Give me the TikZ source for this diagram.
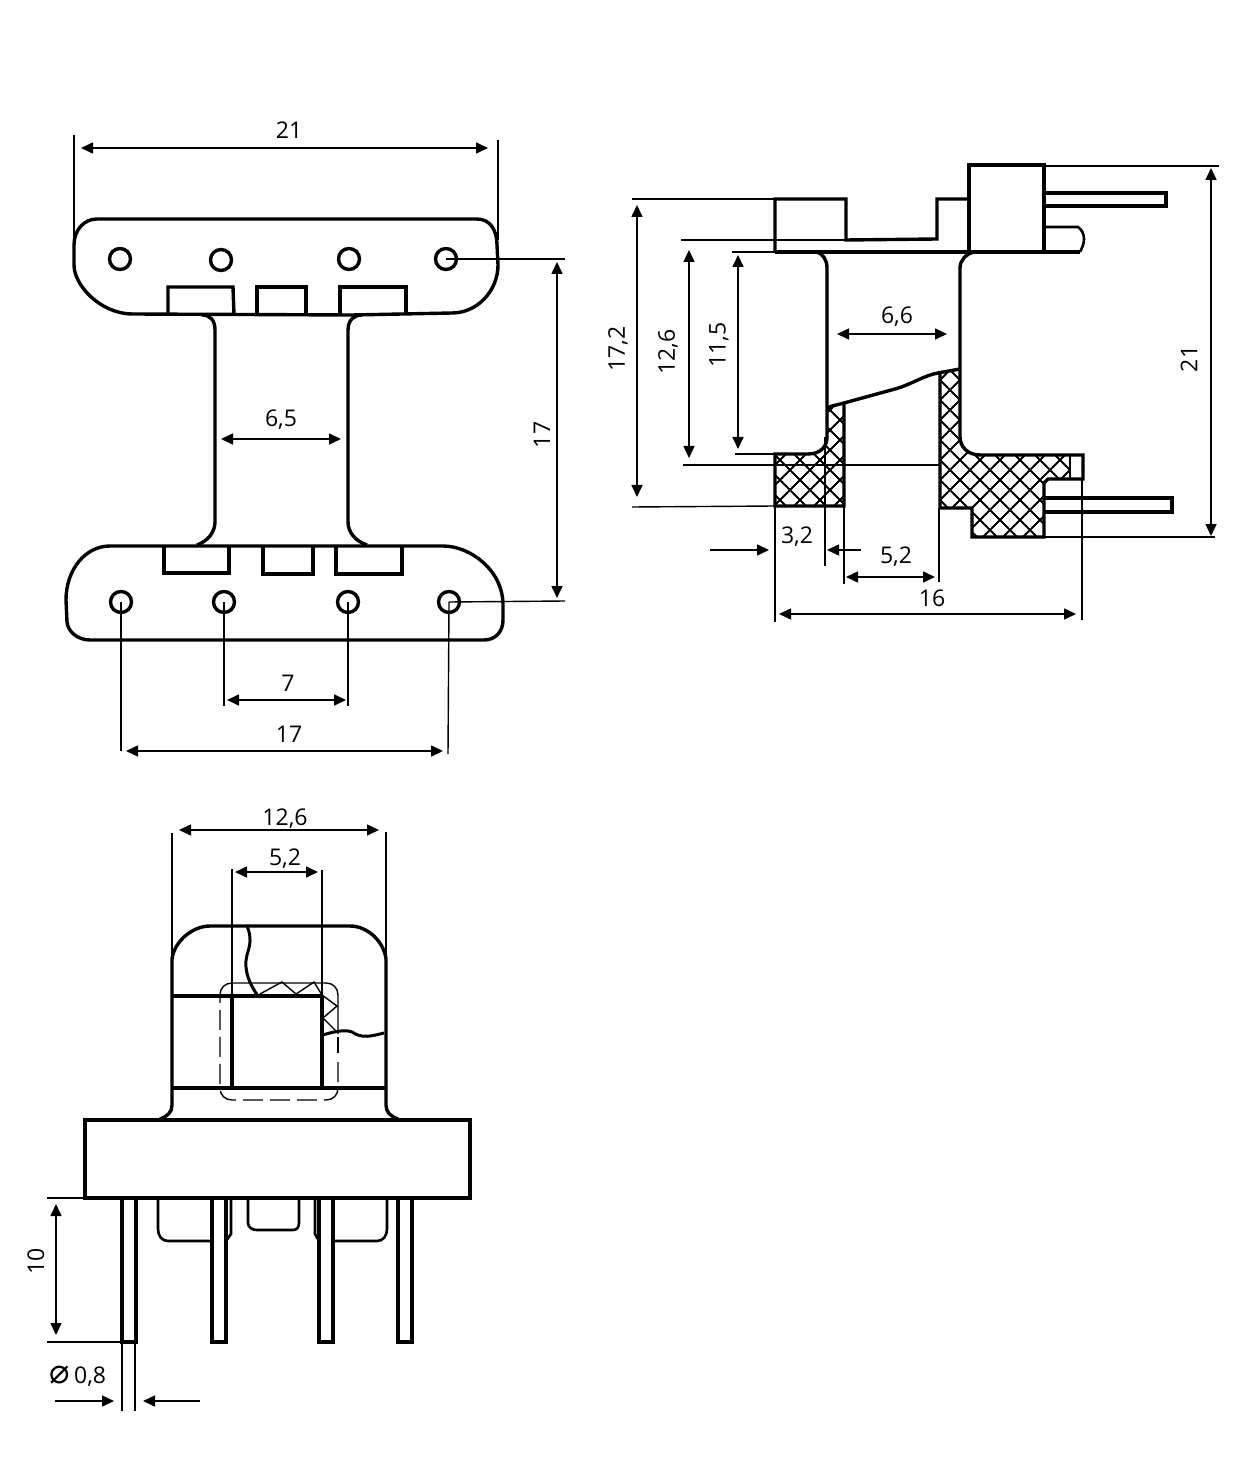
\documentclass[tikz,border=0pt]{standalone}
\usepackage{fontspec}
\setmainfont{Open Sans}
\newfontfamily\symbfont{DejaVu Sans}
\usetikzlibrary{arrows.meta}
\tikzset{
	outline/.style={line width=1.7pt, line join=miter},
	tab/.style={line width=1.3pt},
	thin line/.style={line width=0.7pt},
	hatch/.style={line width=0.9pt},
	dim/.style={line width=0.8pt, {Triangle[length=6pt,width=5.5pt]}-{Triangle[length=6pt,width=5.5pt]}},
	lead/.style={line width=0.8pt, -{Triangle[length=6pt,width=5.5pt]}},
	value/.style={font=\fontsize{11.5}{13}\selectfont, inner sep=0pt},
	hole/.style={circle, draw, line width=1.7pt, minimum size=10.5pt, inner sep=0pt}
}
\begin{document}
\begin{tikzpicture}[x=0.5pt, y=-0.5pt]
	\useasboundingbox (0,0) rectangle (1241,1459);
	
	% flanges and body, seen from above
	\draw [outline] (97,219) -- (477,219) .. controls (490,219) and (497,230) .. (497,245)
		-- (498,265) .. controls (498,290) and (478,313) .. (452,313) -- (352,315) -- (133,314)
		.. controls (100,314) and (74,285) .. (74,265) -- (74,245) .. controls (74,230) and (84,219) .. (97,219) -- cycle;
	\draw [outline] (110,546) -- (443,546) .. controls (470,546) and (503,570) .. (503,605)
		-- (503,620) .. controls (503,632) and (495,640) .. (484,640) -- (90,640)
		.. controls (78,640) and (68,632) .. (67,622) -- (66,600) .. controls (66,570) and (85,546) .. (110,546) -- cycle;
	\draw [outline] (202,315) .. controls (210,315) and (215,320) .. (215,330) -- (215,522) .. controls (215,532) and (208,541) .. (197,545);
	\draw [outline] (362,315) .. controls (354,315) and (348,320) .. (348,330) -- (348,522) .. controls (348,532) and (355,541) .. (367,545);
	
	\draw [outline] (168,315) -- (168,287) -- (233,287) -- (234,315);
	\draw [outline] (257,315) -- (257,287) -- (306,287) -- (306,315);
	\draw [outline] (340,315) -- (340,287) -- (406,287) -- (406,315);
	\draw [outline] (164,546) -- (164,573) -- (229,573) -- (229,546);
	\draw [outline] (263,546) -- (263,574) -- (313,574) -- (313,546);
	\draw [outline] (336,546) -- (336,574) -- (402,574) -- (402,546);
	
	\foreach \hname/\hx/\hy in {holeA/120/259, holeB/221/260, holeC/349/259, holeD/446/259, holeE/121/602, holeF/224/602, holeG/348/602, holeH/449/602}
		\node [hole] (\hname) at (\hx,\hy) {};
	
	\draw [thin line] (74,135)          --  (74,245);
	\draw [thin line] (498,140)         --  (498,240);
	\draw [thin line] (holeD.center)    --  (565,259);
	\draw [thin line] (holeH.center)    --  (565,601);
	\draw [thin line] (holeE.center)    --  (121,751);
	\draw [thin line] (holeF.center)    --  (224,706);
	\draw [thin line] (holeG.center)    --  (348,706);
	\draw [thin line] (holeH.center)    --  (448,754);
	
	\draw [dim] (81,148)    --  (488,148);
	\draw [dim] (557,262)   --  (557,598);
	\draw [dim] (221,439)   --  (341,439);
	\draw [dim] (227,700)   --  (346,700);
	\draw [dim] (126,751)   --  (443,751);
	\node [value] (topWidth)    at (289,130) {21};
	\node [value, rotate=90] (holeRows) at (542,435) {17};
	\node [value] (bodyWidth)   at (281,420) {6,5};
	\node [value] (pinInner)    at (288,683) {7};
	\node [value] (pinOuter)    at (289,734) {17};
	
	% section from the side
	\begin{scope}
		\clip (775,454) -- (808,454) .. controls (820,454) and (827,447) .. (827,437) -- (827,408) -- (844,404) -- (844,506) -- (775,506) -- cycle;
		\foreach \k in {400,420,...,1300} {
			\draw [hatch] (\k,300) -- ++(300,300);
			\draw [hatch] (\k,600) -- ++(300,-300);
		}
	\end{scope}
	\begin{scope}
		\clip (940,373) -- (960,369) -- (960,437) .. controls (960,447) and (968,455) .. (980,455) -- (1070,455) -- (1070,479) -- (1044,479) -- (1044,537) -- (972,537) -- (972,508) -- (940,508) -- cycle;
		\foreach \k in {400,420,...,1300} {
			\draw [hatch] (\k,300) -- ++(300,300);
			\draw [hatch] (\k,600) -- ++(300,-300);
		}
	\end{scope}
	
	\draw [outline] (775,252) -- (775,199) -- (846,199) -- (846,240) -- (937,239) -- (937,199) -- (969,199);
	\draw [outline] (969,165) rectangle (1044,252);
	\draw [outline] (775,252) -- (1080,252);
	\draw [outline] (1044,193) -- (1166,193) -- (1166,206) -- (1044,206);
	\draw [tab]     (1044,227) -- (1078,227) .. controls (1082,230) and (1084,234) .. (1084,239) .. controls (1084,244) and (1082,248) .. (1080,252);
	\draw [outline] (817,252) .. controls (823,254) and (827,260) .. (827,268) -- (827,437) .. controls (827,447) and (820,454) .. (808,454) -- (775,454) -- (775,506) -- (844,506) -- (844,404);
	\draw [outline] (974,252) .. controls (966,254) and (960,260) .. (960,268) -- (960,437) .. controls (960,447) and (968,455) .. (980,455) -- (1083,455) -- (1083,479) -- (1048,479) -- (1044,483) -- (1044,537) -- (972,537) -- (972,508) -- (940,508) -- (940,373);
	\draw [outline] (827,408) .. controls (833,405) and (838,405) .. (844,403) -- (895,389) .. controls (910,385) and (925,375) .. (938,373) -- (960,369);
	\draw [outline] (1044,498) -- (1172,498) -- (1172,512) -- (1044,512);
	\draw [thin line] (1070,456) -- (1070,479);
	
	\draw [thin line] (632,199)     --  (775,199);
	\draw [thin line] (632,507)     --  (775,506);
	\draw [thin line] (681,240)     --  (846,240);
	\draw [thin line] (683,465)     --  (940,465);
	\draw [thin line] (732,252)     --  (775,252);
	\draw [thin line] (735,454)     --  (775,454);
	\draw [thin line] (1044,166)    --  (1219,166);
	\draw [thin line] (1044,537)    --  (1215,537);
	\draw [thin line] (775,506)     --  (775,622);
	\draw [thin line] (825,437)     --  (825,566);
	\draw [thin line] (844,506)     --  (844,584);
	\draw [thin line] (939,508)     --  (939,582);
	\draw [thin line] (1082,479)    --  (1082,620);
	
	\draw [dim]  (637,205)   --  (637,497);
	\draw [dim]  (689,250)   --  (689,458);
	\draw [dim]  (738,255)   --  (738,449);
	\draw [dim]  (837,334)   --  (947,334);
	\draw [dim]  (1211,168)  --  (1211,536);
	\draw [lead] (710,550)   --  (769,550);
	\draw [lead] (861,550)   --  (827,550);
	\draw [dim]  (846,577)   --  (935,577);
	\draw [dim]  (779,614)   --  (1076,614);
	\node [value, rotate=90] (sideTotal)  at (618,349)  {17,2};
	\node [value, rotate=90] (sideInner)  at (668,352)  {12,6};
	\node [value, rotate=90] (sideWindow) at (719,345)  {11,5};
	\node [value, rotate=90] (sideHeight) at (1189,359) {21};
	\node [value] (sideCore)    at (897,317) {6,6};
	\node [value] (sideWall)    at (797,537) {3,2};
	\node [value] (sideGap)     at (896,557) {5,2};
	\node [value] (sideWidth)   at (932,598) {16};
	
	% front view with pins
	\draw [outline] (85,1120) rectangle (470,1198);
	\draw [outline] (160,1119) .. controls (168,1116) and (172,1112) .. (172,1105) -- (172,959) .. controls (174,942) and (192,926) .. (210,926)
		-- (350,926) .. controls (368,926) and (384,942) .. (386,959) -- (386,1105) .. controls (386,1112) and (390,1116) .. (398,1119);
	\draw [outline] (172,996) -- (322,996);
	\draw [outline] (172,1088) -- (386,1088);
	\draw [outline] (232,996) -- (232,1088);
	\draw [outline] (322,996) -- (322,1088);
	
	\draw [thin line] (220,996) -- (220,995) .. controls (220,988) and (225,983) .. (232,983) -- (326,983) .. controls (333,983) and (338,988) .. (338,995) -- (338,1034);
	\draw [thin line, dash pattern=on 10pt off 3.5pt] (338,1062) -- (338,1088) .. controls (338,1095) and (333,1100) .. (326,1100) -- (232,1100) .. controls (225,1100) and (220,1095) .. (220,1088) -- (220,996);
	\draw [thin line] (338,1037) -- (338,1053);
	\draw [thin line] (260,994) -- (282,982) -- (296,994) -- (314,982) -- (322,995) -- (337,1006) -- (323,1018) -- (337,1032);
	\draw [outline, line width=1.5pt] (247,926) .. controls (252,938) and (250,945) .. (247,955) .. controls (243,970) and (250,985) .. (258,996);
	\draw [outline, line width=1.5pt] (323,1035) .. controls (332,1032) and (345,1029) .. (352,1032) .. controls (362,1039) and (372,1036) .. (384,1033);
	
	\foreach \px in {122,212,319,398}
		\draw [outline, line width=1.6pt] (\px,1198) -- (\px,1342) -- (\px+14,1342) -- (\px+14,1198);
	\draw [tab] (158,1198) -- (158,1229) .. controls (158,1236) and (162,1241) .. (168,1241) -- (212,1241);
	\draw [tab] (248,1198) -- (248,1223) .. controls (248,1227) and (252,1230) .. (257,1230) -- (293,1230) .. controls (297,1230) and (299,1227) .. (299,1223) -- (299,1198);
	\draw [tab] (387,1198) -- (387,1229) .. controls (387,1236) and (383,1241) .. (377,1241) -- (333,1241);
	\draw [tab] (231,1198) -- (231,1234) -- (226,1241);
	\draw [tab] (315,1198) -- (315,1234) -- (319,1241);
	
	\draw [thin line] (172,833)     --  (172,965);
	\draw [thin line] (386,832)     --  (386,960);
	\draw [thin line] (232,869)     --  (232,996);
	\draw [thin line] (322,870)     --  (322,996);
	\draw [thin line] (47,1198)     --  (122,1198);
	\draw [thin line] (47,1342)     --  (122,1342);
	\draw [thin line] (122,1342)    --  (122,1411);
	\draw [thin line] (135,1342)    --  (135,1411);
	
	\draw [dim]  (179,830)   --  (379,830);
	\draw [dim]  (235,872)   --  (318,872);
	\draw [dim]  (56,1204)   --  (56,1335);
	\draw [lead] (55,1401)   --  (114,1401);
	\draw [lead] (200,1401)  --  (143,1401);
	\node [value] (frontOuter)  at (285,819) {12,6};
	\node [value] (frontCore)   at (285,859) {5,2};
	\node [value, rotate=90] (pinLength) at (36,1261) {10};
	\node [value] (pinDiameter) at (78,1376) {{\symbfont\fontsize{17}{17}\selectfont ⌀}\,0,8};
	
\end{tikzpicture}
\end{document}
